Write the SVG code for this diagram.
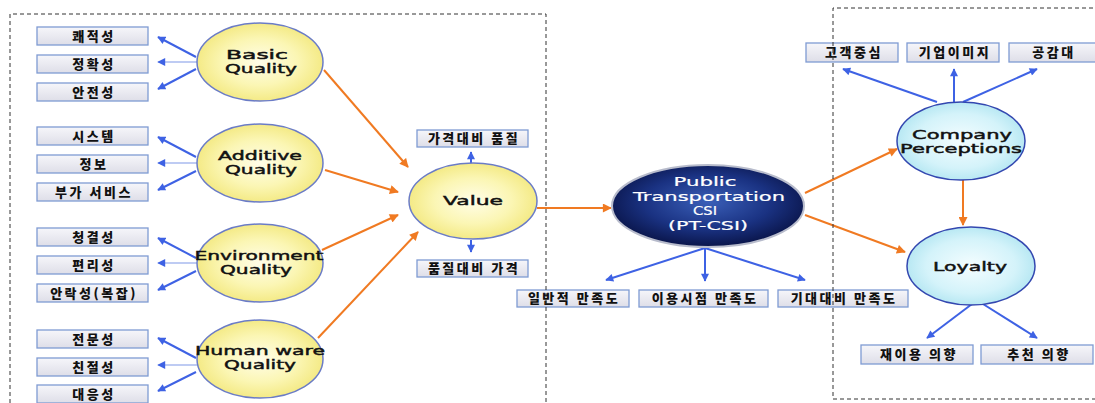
<svg xmlns="http://www.w3.org/2000/svg" width="1095" height="403" viewBox="0 0 1095 403">
<style>
.box{fill:url(#boxg);stroke:#7f9bd3;stroke-width:1.3}
.kt{font-family:"Noto Sans CJK KR","Noto Sans",sans-serif;font-weight:900;font-size:13px;letter-spacing:2.5px;fill:#111;text-anchor:middle}
.yel{fill:url(#yelg);stroke:#6b7cc6;stroke-width:1.5}
.cy{fill:url(#cyg);stroke:#3347b0;stroke-width:1.5}
.et{font-family:"DejaVu Sans",sans-serif;font-size:13px;fill:#111;stroke:#111;stroke-width:0.45;text-anchor:middle}
.wt{font-family:"DejaVu Sans",sans-serif;font-size:12.5px;fill:#fff;stroke:#fff;stroke-width:0.2;text-anchor:middle}
.bl{stroke:#3e62e4;stroke-width:2;fill:none;marker-end:url(#ab)}
.bt{stroke:#7f98e8;stroke-width:1.2;fill:none;marker-end:url(#ab)}
.or{stroke:#f07a22;stroke-width:2;fill:none;marker-end:url(#ao)}
.dash{fill:none;stroke:#333;stroke-width:1;stroke-dasharray:4 3}
</style>
<defs>
<linearGradient id="boxg" x1="0" y1="0" x2="0" y2="1">
<stop offset="0" stop-color="#f6f6fa"/><stop offset="1" stop-color="#dedee8"/>
</linearGradient>
<radialGradient id="yelg" cx="0.5" cy="0.5" r="0.5">
<stop offset="0" stop-color="#fffde8"/><stop offset="0.6" stop-color="#fbf6b4"/><stop offset="1" stop-color="#f4ea86"/>
</radialGradient>
<radialGradient id="cyg" cx="0.5" cy="0.5" r="0.5">
<stop offset="0" stop-color="#f4fdff"/><stop offset="0.7" stop-color="#d4f3fa"/><stop offset="1" stop-color="#b8e8f3"/>
</radialGradient>
<radialGradient id="navg" cx="0.5" cy="0.45" r="0.55">
<stop offset="0" stop-color="#3a5fb8"/><stop offset="0.6" stop-color="#1a3282"/><stop offset="1" stop-color="#0a154a"/>
</radialGradient>
<marker id="ab" viewBox="0 0 10 10" refX="9" refY="5" markerWidth="9" markerHeight="8" markerUnits="userSpaceOnUse" orient="auto">
<path d="M0,0 L10,5 L0,10 z" fill="#3e62e4"/>
</marker>
<marker id="ao" viewBox="0 0 10 10" refX="9" refY="5" markerWidth="10" markerHeight="9" markerUnits="userSpaceOnUse" orient="auto">
<path d="M0,0 L10,5 L0,10 z" fill="#f07a22"/>
</marker>
</defs>
<rect width="1095" height="403" fill="#fff"/>

<g id="connectors">
<line class="bl" x1="196" y1="57" x2="158" y2="37"/>
<line class="bt" x1="197" y1="62" x2="158" y2="62"/>
<line class="bl" x1="196" y1="69" x2="158" y2="89"/>
<line class="bl" x1="196" y1="157" x2="158" y2="137"/>
<line class="bt" x1="197" y1="163" x2="158" y2="163"/>
<line class="bl" x1="196" y1="171" x2="158" y2="190"/>
<line class="bl" x1="196" y1="258" x2="158" y2="238"/>
<line class="bt" x1="197" y1="263" x2="158" y2="263"/>
<line class="bl" x1="196" y1="271" x2="158" y2="290"/>
<line class="bl" x1="196" y1="358" x2="158" y2="338"/>
<line class="bt" x1="197" y1="365" x2="158" y2="365"/>
<line class="bl" x1="196" y1="372" x2="158" y2="391"/>
<line class="or" x1="324" y1="70" x2="408" y2="167"/>
<line class="or" x1="325" y1="170" x2="398" y2="192"/>
<line class="or" x1="322" y1="250" x2="398" y2="215"/>
<line class="or" x1="318" y1="338" x2="418" y2="232"/>
<line class="bl" x1="471" y1="163" x2="471" y2="152"/>
<line class="bl" x1="471" y1="240" x2="471" y2="252"/>
<line class="or" x1="537" y1="208" x2="611" y2="208"/>
<line class="bl" x1="705" y1="248" x2="606" y2="280"/>
<line class="bl" x1="705" y1="248" x2="705" y2="281"/>
<line class="bl" x1="705" y1="248" x2="805" y2="280"/>
<line class="or" x1="805" y1="193" x2="897" y2="149"/>
<line class="or" x1="805" y1="215" x2="905" y2="252"/>
<line class="or" x1="963" y1="180" x2="963" y2="225"/>
<line class="bl" x1="937" y1="102" x2="843" y2="69"/>
<line class="bl" x1="954" y1="102" x2="954" y2="69"/>
<line class="bl" x1="963" y1="102" x2="1037" y2="69"/>
<line class="bl" x1="972" y1="304" x2="927" y2="338"/>
<line class="bl" x1="983" y1="304" x2="1037" y2="338"/>
</g>

<g id="n-kwaejeok"><rect class="box" x="37" y="27" width="111" height="18"/><text class="kt" x="94" y="41">쾌적성</text></g>
<g id="n-jeonghwak"><rect class="box" x="37" y="55" width="111" height="18"/><text class="kt" x="94" y="69">정확성</text></g>
<g id="n-anjeon"><rect class="box" x="37" y="83" width="111" height="18"/><text class="kt" x="94" y="97">안전성</text></g>
<g id="n-system"><rect class="box" x="37" y="127" width="111" height="18"/><text class="kt" x="94" y="141">시스템</text></g>
<g id="n-jeongbo"><rect class="box" x="37" y="155" width="111" height="18"/><text class="kt" x="94" y="169">정보</text></g>
<g id="n-buga"><rect class="box" x="37" y="183" width="111" height="18"/><text class="kt" x="94" y="197">부가 서비스</text></g>
<g id="n-cheonggyeol"><rect class="box" x="37" y="228" width="111" height="18"/><text class="kt" x="94" y="242">청결성</text></g>
<g id="n-pyeonri"><rect class="box" x="37" y="256" width="111" height="18"/><text class="kt" x="94" y="270">편리성</text></g>
<g id="n-anrak"><rect class="box" x="37" y="284" width="111" height="18"/><text class="kt" x="94" y="298">안락성(복잡)</text></g>
<g id="n-jeonmun"><rect class="box" x="37" y="330" width="111" height="18"/><text class="kt" x="94" y="344">전문성</text></g>
<g id="n-chinjeol"><rect class="box" x="37" y="358" width="111" height="18"/><text class="kt" x="94" y="372">친절성</text></g>
<g id="n-daeeung"><rect class="box" x="37" y="385" width="111" height="18"/><text class="kt" x="94" y="399">대응성</text></g>

<g id="n-basic"><ellipse class="yel" cx="260" cy="62" rx="63" ry="39"/><text class="et" x="257" y="59" textLength="62" lengthAdjust="spacingAndGlyphs">Basic</text><text class="et" x="261" y="73" textLength="72" lengthAdjust="spacingAndGlyphs">Quality</text></g>
<g id="n-additive"><ellipse class="yel" cx="260" cy="163" rx="63" ry="39"/><text class="et" x="260" y="160" textLength="84" lengthAdjust="spacingAndGlyphs">Additive</text><text class="et" x="261" y="174" textLength="72" lengthAdjust="spacingAndGlyphs">Quality</text></g>
<g id="n-environment"><ellipse class="yel" cx="260" cy="263" rx="63" ry="39"/><text class="et" x="259" y="260" textLength="129" lengthAdjust="spacingAndGlyphs">Environment</text><text class="et" x="256" y="274" textLength="72" lengthAdjust="spacingAndGlyphs">Quality</text></g>
<g id="n-humanware"><ellipse class="yel" cx="260" cy="359" rx="63" ry="39"/><text class="et" x="260" y="355" textLength="130" lengthAdjust="spacingAndGlyphs">Human ware</text><text class="et" x="260" y="369" textLength="72" lengthAdjust="spacingAndGlyphs">Quality</text></g>

<g id="n-value"><ellipse class="yel" cx="473" cy="201" rx="64" ry="38"/><text class="et" x="473" y="205" textLength="60" lengthAdjust="spacingAndGlyphs">Value</text></g>
<g id="n-gagyeok"><rect class="box" x="417" y="130" width="111" height="17"/><text class="kt" x="474" y="143">가격대비 품질</text></g>
<g id="n-pumjil"><rect class="box" x="417" y="260" width="111" height="17"/><text class="kt" x="474" y="273">품질대비 가격</text></g>

<g id="n-ptcsi"><ellipse cx="708" cy="206" rx="96" ry="41" fill="url(#navg)" stroke="#b8bccc" stroke-width="2"/>
<text class="wt" x="705" y="186" textLength="63" lengthAdjust="spacingAndGlyphs">Public</text>
<text class="wt" x="709" y="201" textLength="152" lengthAdjust="spacingAndGlyphs">Transportation</text>
<text class="wt" x="705" y="215" textLength="24" lengthAdjust="spacingAndGlyphs">CSI</text>
<text class="wt" x="708" y="230" textLength="80" lengthAdjust="spacingAndGlyphs">(PT-CSI)</text></g>
<g id="n-ilban"><rect class="box" x="517" y="290" width="112" height="17"/><text class="kt" x="574" y="303">일반적 만족도</text></g>
<g id="n-iyong"><rect class="box" x="639" y="290" width="129" height="17"/><text class="kt" x="705" y="303">이용시점 만족도</text></g>
<g id="n-gidae"><rect class="box" x="778" y="290" width="130" height="17"/><text class="kt" x="844" y="303">기대대비 만족도</text></g>

<g id="n-company"><ellipse class="cy" cx="961" cy="141" rx="64" ry="39"/><text class="et" x="962" y="139" textLength="100" lengthAdjust="spacingAndGlyphs">Company</text><text class="et" x="961" y="153" textLength="122" lengthAdjust="spacingAndGlyphs">Perceptions</text></g>
<g id="n-gogaek"><rect class="box" x="806" y="43" width="92" height="19"/><text class="kt" x="854" y="57">고객중심</text></g>
<g id="n-giup"><rect class="box" x="907" y="43" width="92" height="19"/><text class="kt" x="955" y="57">기업이미지</text></g>
<g id="n-gonggam"><rect class="box" x="1009" y="43" width="92" height="19"/><text class="kt" x="1054" y="57">공감대</text></g>

<g id="n-loyalty"><ellipse class="cy" cx="971" cy="266" rx="64" ry="39"/><text class="et" x="970" y="271" textLength="74" lengthAdjust="spacingAndGlyphs">Loyalty</text></g>
<g id="n-jaeiyong"><rect class="box" x="861" y="345" width="112" height="19"/><text class="kt" x="919" y="359">재이용 의향</text></g>
<g id="n-chucheon"><rect class="box" x="981" y="345" width="112" height="19"/><text class="kt" x="1039" y="359">추천 의향</text></g>

<g id="frames">
<path class="dash" d="M10,410 L10,14 L546,14 L546,410"/>
<path class="dash" d="M1100,8 L833,8 L833,399 L1100,399"/>
</g>
</svg>
